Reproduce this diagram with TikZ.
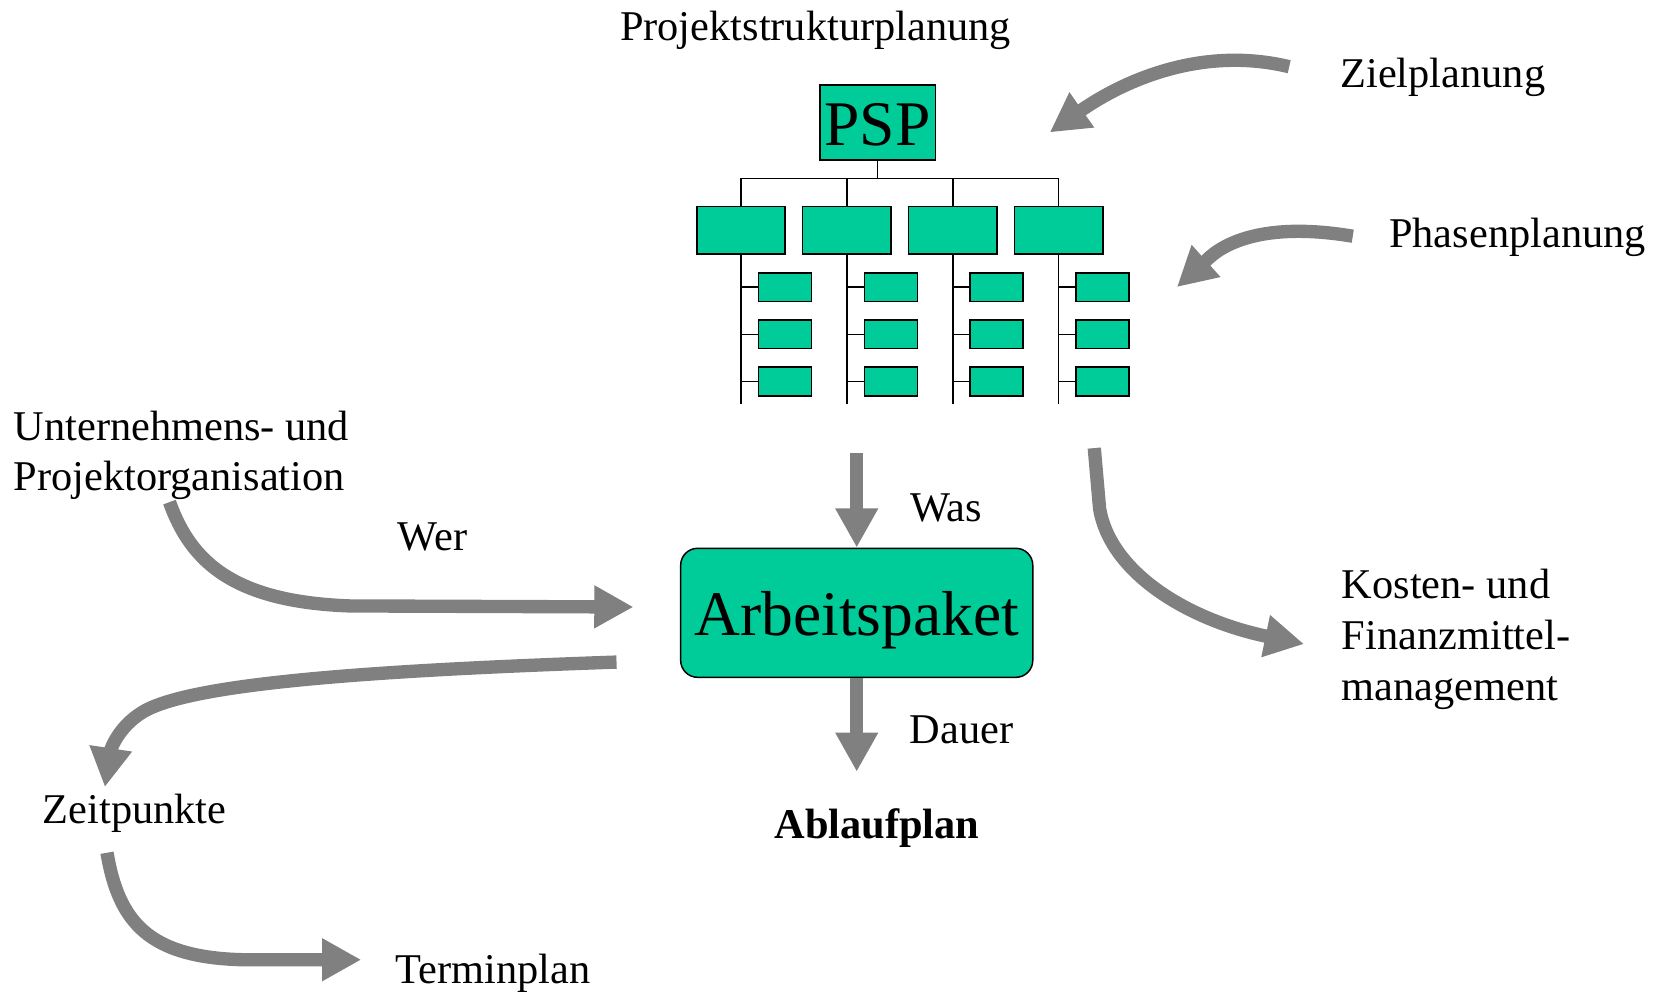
\documentclass[tikz,border=0pt]{standalone}
\usepackage{fontspec}
\setmainfont{Liberation Serif}
\usetikzlibrary{arrows.meta}
\definecolor{pspgreen}{HTML}{00CC99}
\definecolor{flowgray}{HTML}{808080}
\tikzset{
  lbl/.style={anchor=base west, inner sep=0pt, font=\fontsize{20}{24}\selectfont},
  topbox/.style={draw=black, line width=0.8pt, fill=pspgreen, minimum width=54.5pt, minimum height=35.5pt, inner sep=0pt, text height=22.3pt, text depth=0pt, font=\fontsize{30}{36}\selectfont},
  midbox/.style={draw=black, line width=0.8pt, fill=pspgreen, minimum width=41.8pt, minimum height=22.5pt, inner sep=0pt},
  leafbox/.style={draw=black, line width=0.8pt, fill=pspgreen, minimum width=25pt, minimum height=13.5pt, inner sep=0pt},
  treeline/.style={draw=black, line width=0.65pt},
  workbox/.style={draw=black, line width=0.7pt, fill=pspgreen, rounded corners=8pt, minimum width=166.2pt, minimum height=60.9pt, inner sep=0pt, text height=21pt, text depth=0pt, font=\fontsize{30}{36}\selectfont},
  flow/.style={draw=flowgray, line width=6.3pt, -{Triangle[length=18.5pt,width=19pt]}}
}
\begin{document}
\begin{tikzpicture}[x=0.5pt,y=-0.5pt]
\useasboundingbox (0,0) rectangle (1568,936);

% --- project structure plan (PSP) tree ---
\node[lbl] (pspt) at (585,38) {Projektstrukturplanung};
\node[topbox] (psp) at (828.5,115.5) {PSP};
\coordinate (bar) at (0,168.3);
\coordinate (treeend) at (0,381.7);
\foreach \i in {0,1,2,3}{
  \node[midbox] (b\i) at (699.5+100*\i,217.5) {};
  \foreach \j/\yy in {0/271,1/315.5,2/360}{
    \node[leafbox] (s\i\j) at (741+100*\i,\yy) {};
    \draw[treeline] (s\i\j.west -| b\i.south) -- (s\i\j.west);
  }
  \draw[treeline] (b\i.north |- bar) -- (b\i.north);
  \draw[treeline] (b\i.south) -- (b\i.south |- treeend);
}
\draw[treeline] (psp.south) -- (psp.south |- bar);
\draw[treeline] (b0.north |- bar) -- (b3.north |- bar);

% --- work package ---
\node[workbox] (ap) at (808.75,578.5) {Arbeitspaket};

% --- labels ---
\node[lbl] (ziel) at (1265,83) {Zielplanung};
\node[lbl] (phase) at (1311,233.5) {Phasenplanung};
\node[lbl] (org1) at (12.6,415.4) {Unternehmens- und};
\node[lbl] (org2) at (12.6,463) {Projektorganisation};
\node[lbl] (wer) at (375,520) {Wer};
\node[lbl] (was) at (859,492.5) {Was};
\node[lbl] (dauer) at (858.4,701.7) {Dauer};
\node[lbl, font=\fontsize{20}{24}\selectfont\bfseries] (ablauf) at (730.7,791.4) {Ablaufplan};
\node[lbl] (zeit) at (40,777) {Zeitpunkte};
\node[lbl] (termin) at (373,928) {Terminplan};
\node[lbl] (kost1) at (1266.4,564.8) {Kosten- und};
\node[lbl] (kost2) at (1266.4,613) {Finanzmittel-};
\node[lbl] (kost3) at (1266.4,661) {management};

% --- flow arrows ---
\coordinate (wasStart) at (808.75,428);
\draw[flow] (wasStart) -- (ap.north);
\coordinate (dauerEnd) at (808.75,728.5);
\draw[flow] (ap.south) -- (dauerEnd);

\coordinate (zielStart) at (1217,63);
\coordinate (zielEnd) at (991,125);
\draw[flow] (zielStart) .. controls (1130,42) and (1055,80) .. (zielEnd);

\coordinate (phaseStart) at (1277,223);
\coordinate (phaseEnd) at (1111,271);
\draw[flow] (phaseStart) .. controls (1170,205) and (1140,245) .. (phaseEnd);

\coordinate (werStart) at (160,474);
\coordinate (werBend) at (330,572);
\coordinate (werEnd) at (598,573);
\draw[flow] (werStart) .. controls (180,530) and (220,568) .. (werBend) -- (werEnd);

\coordinate (zeitStart) at (582,625);
\coordinate (zeitBend) at (135,672);
\coordinate (zeitEnd) at (99,743);
\draw[flow] (zeitStart) .. controls (350,633) and (180,645) .. (zeitBend)
  .. controls (110,687) and (104,710) .. (zeitEnd);

\coordinate (terminStart) at (101,805);
\coordinate (terminBend) at (230,906);
\coordinate (terminEnd) at (341,906);
\draw[flow] (terminStart) .. controls (112,870) and (140,904) .. (terminBend) -- (terminEnd);

\coordinate (kostStart) at (1033,423);
\coordinate (kostBend) at (1038,480);
\coordinate (kostEnd) at (1231,608);
\draw[flow] (kostStart) -- (kostBend) .. controls (1048,540) and (1120,585) .. (kostEnd);
\end{tikzpicture}
\end{document}
